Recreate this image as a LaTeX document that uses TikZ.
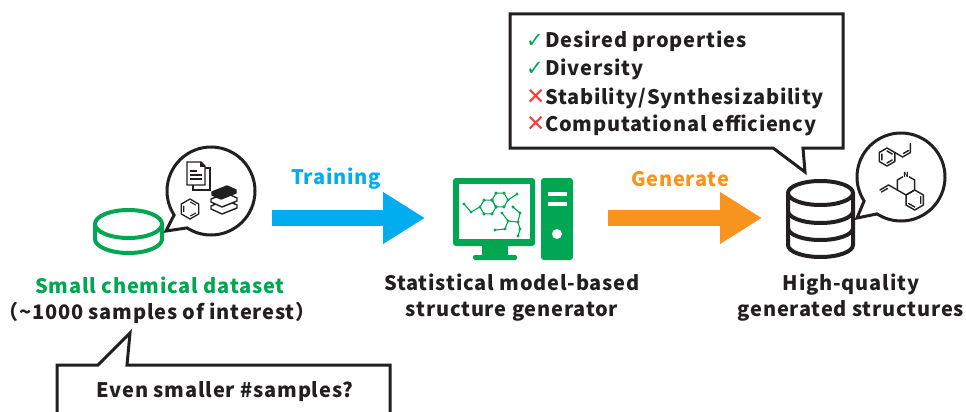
\documentclass[tikz,border=0pt]{standalone}
\usepackage{fontspec}
\setmainfont{Noto Sans CJK JP}[LetterSpace=4]
\newfontfamily\symf{DejaVu Sans}
\usetikzlibrary{arrows.meta,calc}

\definecolor{ink}{RGB}{35,31,32}
\definecolor{dsgreen}{RGB}{0,166,81}
\definecolor{trainblue}{RGB}{0,174,239}
\definecolor{genorange}{RGB}{247,148,29}
\definecolor{badred}{RGB}{238,64,64}

\newcommand{\okmark}{\makebox[19pt][l]{\symf\fontsize{21}{20}\selectfont\color{dsgreen}\char"2713}}
\newcommand{\ngmark}{\makebox[19pt][l]{\symf\fontsize{23}{20}\selectfont\color{badred}\char"2715}}

\tikzset{
  bubble/.style={draw=ink, line width=3pt, fill=white, line join=miter},
  lbl/.style={font=\bfseries\fontsize{20}{26}\selectfont, text=ink, align=center, inner sep=0pt},
  item/.style={font=\bfseries\fontsize{20}{26}\selectfont, text=ink, inner sep=0pt, anchor=base west},
  blockarrow/.style={line width=16pt, -{Triangle[width=49pt,length=42pt]}},
  mol/.style={line width=1.4pt, draw=ink, line join=round, line cap=round},
  atom/.style={circle, fill=dsgreen, inner sep=0pt, minimum size=3.4pt},
  bond/.style={draw=dsgreen, line width=1.1pt},
}

\begin{document}
\begin{tikzpicture}[x=1pt,y=-1pt]
\useasboundingbox (0,0) rectangle (966,412);

% ---------- left: small dataset ----------
% dataset disk
\begin{scope}[draw=dsgreen, line width=4pt]
  \draw (95,224) -- (95,239) arc[start angle=180, end angle=0, x radius=33.5, y radius=14] -- (162,224);
  \draw[fill=white] (128.5,224) ellipse[x radius=33.5, y radius=14];
\end{scope}
\coordinate (dsdisk) at (128.5,232);

% thought bubble with documents
\coordinate (lbc) at (211,191);
\draw[bubble] (166,231) -- ($(lbc)+(147:44)$) arc[start angle=147, end angle=483, radius=44] -- cycle;
% document pages
\begin{scope}[line width=1.4pt, draw=ink]
  \draw[fill=white] (193,168) rectangle (210,190);
  \draw[fill=white] (187,162) -- (201,162) -- (205,166) -- (205,185) -- (187,185) -- cycle;
  \draw[fill=ink] (201,162) -- (201,166) -- (205,166);
  \draw[line width=1.9pt] (190,171) -- (197,171) (190,175) -- (202,175) (190,179) -- (202,179);
\end{scope}
% benzene
\coordinate (lbz) at (190,209);
\draw[line width=1.3pt, draw=ink] ($(lbz)+(-90:10)$) \foreach \a in {-30,30,90,150,210} { -- ($(lbz)+(\a:10)$) } -- cycle;
\draw[line width=1.1pt, draw=ink]
  ($(lbz)+(-60:6.3)+(-150:3.2)$) -- ($(lbz)+(-60:6.3)+(30:3.2)$)
  ($(lbz)+(60:6.3)+(-30:3.2)$) -- ($(lbz)+(60:6.3)+(150:3.2)$)
  ($(lbz)+(180:6.3)+(90:3.2)$) -- ($(lbz)+(180:6.3)+(-90:3.2)$);
% book stack
\begin{scope}[line width=1.4pt, draw=ink, line join=round]
  \draw[fill=white] (211,206) -- (226,200) -- (237,205) -- (237,208) -- (222,214) -- (211,209) -- cycle;
  \draw[fill=white] (211,199) -- (226,193) -- (237,198) -- (237,201) -- (222,207) -- (211,202) -- cycle;
  \draw[fill=ink] (212,192) -- (227,186) -- (236,190) -- (236,193) -- (221,199) -- (212,195) -- cycle;
\end{scope}

\node[lbl, text=dsgreen] (dsname) at (160,285) {Small chemical dataset};
\node[lbl] (dsnote) at (157,313) {（{\char"007E}1000 samples of interest）};

% ---------- training arrow ----------
\coordinate (trainA) at (272,218);
\coordinate (trainB) at (425,218);
\draw[blockarrow, trainblue] (trainA) -- (trainB);
\node[lbl, text=trainblue] (trainlbl) at (336,179) {Training};

% ---------- structure generator (computer) ----------
\begin{scope}
  \fill[dsgreen, rounded corners=3pt] (453,178) rectangle (535,246);
  \fill[white] (459,184) rectangle (530,239);
  \fill[dsgreen] (482,245) rectangle (508,256);
  \fill[dsgreen, rounded corners=1.5pt] (473,255) rectangle (517,260);
  \fill[dsgreen, rounded corners=3pt] (541,178) rectangle (573,260);
  \fill[white] (548,192) rectangle (567,195.5);
  \fill[white] (548,202) rectangle (567,205.5);
  \fill[white] (557,234) circle[radius=5];
\end{scope}
\coordinate (pc) at (513,219);
% molecule on the screen
\coordinate (ra) at (488,207);
\coordinate (rb) at (500,200);
\draw[bond] ($(ra)+(0:8)$) \foreach \a in {60,120,180,240,300} { -- ($(ra)+(\a:8)$) } -- cycle;
\draw[bond] ($(rb)+(0:8)$) \foreach \a in {60,120,180,240,300} { -- ($(rb)+(\a:8)$) } -- cycle;
\draw[bond] ($(ra)+(180:8)$) -- (471,212) -- (464,204);
\draw[bond] ($(rb)+(0:8)$) -- (517,194);
\draw[bond] (495,230) -- (505,229) -- (508,221) -- (518,222) -- (520,213) -- (513,207);
\draw[bond] (508,221) -- (502,213);
\draw[bond] (518,222) -- (520,229) -- (518,236);
\foreach \a in {0,60,120,180,240,300} {
  \node[atom] at ($(ra)+(\a:8)$) {};
  \node[atom] at ($(rb)+(\a:8)$) {};
}
\foreach \p in {(471,212),(464,204),(517,194),(495,230),(505,229),(508,221),(518,222),(520,213),(513,207),(502,213),(520,229),(518,236)}
  \node[atom] at \p {};

\node[lbl] (pcname) at (512,298) {Statistical model-based\\structure generator};

% ---------- generate arrow ----------
\coordinate (genA) at (608,218);
\coordinate (genB) at (762,218);
\draw[blockarrow, genorange] (genA) -- (genB);
\node[lbl, text=genorange] (genlbl) at (680,179) {Generate};

% ---------- right: generated structures ----------
\begin{scope}[draw=ink, line width=4pt]
  \draw[fill=white] (788,193) -- (788,245) arc[start angle=180, end angle=0, x radius=32.5, y radius=12] -- (853,193);
  \draw (788,211) arc[start angle=180, end angle=0, x radius=32.5, y radius=12];
  \draw (788,228) arc[start angle=180, end angle=0, x radius=32.5, y radius=12];
  \draw[fill=white] (820.5,193) ellipse[x radius=32.5, y radius=12];
\end{scope}
\coordinate (outdb) at (820.5,225);

% thought bubble with generated molecules
\coordinate (rbc) at (901,177);
\draw[bubble] (857,218) -- ($(rbc)+(147:44)$) arc[start angle=147, end angle=483, radius=44] -- cycle;
% styrene-like fragment
\coordinate (sb) at (887,157);
\draw[mol] ($(sb)+(-90:9)$) \foreach \a in {-30,30,90,150,210} { -- ($(sb)+(\a:9)$) } -- cycle;
\draw[mol] ($(sb)+(-90:6)$) -- ($(sb)+(-30:6)$) ($(sb)+(30:6)$) -- ($(sb)+(90:6)$) ($(sb)+(150:6)$) -- ($(sb)+(210:6)$);
\draw[mol] ($(sb)+(-30:9)$) -- (902.6,157) -- (910.4,152.5) -- (910.4,143.5);
\draw[mol] (903.4,153.5) -- (908.6,150.5);
% tetrahydroisoquinoline-like fragment
\coordinate (nr) at (906,185);
\coordinate (br) at (914.7,200);
\draw[mol] ($(nr)+(-90:10)$) \foreach \a in {-30,30,90,150,210} { -- ($(nr)+(\a:10)$) } -- cycle;
\draw[mol] ($(br)+(-90:10)$) \foreach \a in {-30,30,90,150,210} { -- ($(br)+(\a:10)$) } -- cycle;
\draw[mol] ($(br)+(-30:7)$) -- ($(br)+(30:7)$) ($(br)+(90:7)$) -- ($(br)+(150:7)$);
\draw[mol] ($(nr)+(150:10)$) -- (888.6,185) -- (879.9,190);
\draw[mol] (887.6,188.4) -- (881.4,192);
\node[fill=white, inner sep=0.6pt, font=\bfseries\fontsize{7}{8}\selectfont, text=ink] (natom) at ($(nr)+(-90:10)$) {N};
\node[lbl] (outname) at (851,298) {High-quality\\generated structures};

% ---------- requirement callout ----------
\draw[bubble] (510,14) -- (843,14) -- (843,148) -- (803,148) -- (805,172) -- (773,148) -- (510,148) -- cycle;
\node[item] (req1) at (526,47.5) {\okmark Desired properties};
\node[item] (req2) at (526,75.5) {\okmark Diversity};
\node[item] (req3) at (526,104) {\ngmark Stability/Synthesizability};
\node[item] (req4) at (526,131.5) {\ngmark Computational efficiency};

% ---------- sample size callout ----------
\draw[bubble] (57,440) -- (57,365) -- (98,365) -- (130,333) -- (127,365) -- (390,365) -- (390,440);
\node[lbl] (fewer) at (225,392) {Even smaller \#samples?};
\end{tikzpicture}
\end{document}
